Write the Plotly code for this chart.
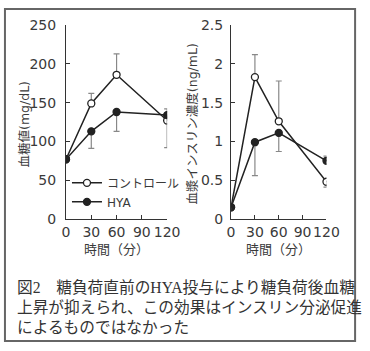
import plotly.graph_objects as go

time = [0, 30, 60, 120]
x_ticks = [0, 30, 60, 90, 120]

glu_ctrl = [77, 149, 186, 127]
glu_ctrl_err_up = [0, 13, 27, 15]
glu_hya = [77, 113, 138, 134]
glu_hya_err_down = [0, 22, 25, 42]

ins_ctrl = [0.15, 1.83, 1.26, 0.48]
ins_ctrl_err_up = [0, 0.29, 0.52, 0]
ins_ctrl_err_down = [0, 0, 0, 0.07]
ins_hya = [0.15, 0.99, 1.11, 0.75]
ins_hya_err_up = [0, 0, 0, 0.06]
ins_hya_err_down = [0, 0.43, 0.24, 0]

glu_yticks = [0, 50, 100, 150, 200, 250]
ins_yticks = [0, 0.5, 1, 1.5, 2, 2.5]
ins_yticklabels = ["0", "0.5", "1", "1.5", "2", "2.5"]

caption = [
    "図2　糖負荷直前のHYA投与により糖負荷後血糖",
    "上昇が抑えられ、この効果はインスリン分泌促進",
    "によるものではなかった",
]

W, H = 370, 351
LINE = "#222222"
ERR = "#888888"
TXT = "#3a3a3a"
FONT = "DejaVu Sans, Noto Sans CJK JP"
CJK = "Noto Sans CJK JP"

fig = go.Figure()

def add(x, y, xa, ya, filled, name, show, up, down):
    fig.add_trace(go.Scatter(
        x=x, y=y, xaxis=xa, yaxis=ya, mode="lines+markers", name=name,
        showlegend=show,
        line=dict(color=LINE, width=1.5),
        marker=dict(symbol="circle", size=7,
                    color=LINE if filled else "white",
                    line=dict(color=LINE, width=1.3)),
        error_y=dict(type="data", symmetric=False, array=up, arrayminus=down,
                     color=ERR, thickness=1.2, width=3),
    ))

add(time, glu_ctrl, "x", "y", False, "コントロール", True, glu_ctrl_err_up, [0]*4)
add(time, glu_hya, "x", "y", True, "HYA", True, [0]*4, glu_hya_err_down)
add(time, ins_ctrl, "x2", "y2", False, "コントロール", False, ins_ctrl_err_up, ins_ctrl_err_down)
add(time, ins_hya, "x2", "y2", True, "HYA", False, ins_hya_err_up, ins_hya_err_down)

y_dom = [1 - 221 / H, 1 - 18 / H]
axis_common = dict(showline=True, linecolor="#333333", linewidth=1.2, ticks="inside",
                   ticklen=4, tickcolor="#333333", showgrid=False, zeroline=False,
                   tickfont=dict(family=FONT, size=14, color=TXT))

fig.update_layout(
    width=W, height=H, margin=dict(l=0, r=0, t=0, b=0),
    paper_bgcolor="white", plot_bgcolor="white",
    xaxis=dict(domain=[65 / W, 171 / W], range=[0, 120], tickvals=x_ticks,
               anchor="y", tickangle=0, **axis_common),
    yaxis=dict(domain=y_dom, range=[0, 250], tickvals=glu_yticks, anchor="x",
               ticklabelstandoff=6, **axis_common),
    xaxis2=dict(domain=[238 / W, 338 / W], range=[0, 120], tickvals=x_ticks,
                anchor="y2", tickangle=0, **axis_common),
    yaxis2=dict(domain=y_dom, range=[0, 2.5], tickvals=ins_yticks,
                ticktext=ins_yticklabels, anchor="x2", ticklabelstandoff=4,
                **axis_common),
    legend=dict(x=66 / W, y=1 - 168 / H, xanchor="left", yanchor="top",
                bgcolor="rgba(0,0,0,0)", font=dict(family=FONT, size=12, color=TXT),
                tracegroupgap=0, itemwidth=30),
    showlegend=True,
)

ann = []
for cx in (118, 288):
    ann.append(dict(text="時間（分）", x=cx / W, y=1 - 252 / H, xref="paper", yref="paper",
                    xanchor="center", yanchor="middle", showarrow=False,
                    font=dict(family=CJK, size=13, color=TXT)))
ann.append(dict(text="血糖値(mg/dL)", x=21 / W, y=1 - 122 / H, xref="paper", yref="paper",
                xanchor="center", yanchor="middle", showarrow=False, textangle=-90,
                font=dict(family=FONT, size=12.5, color=TXT)))
ann.append(dict(text="血漿インスリン濃度(ng/mL)", x=198 / W, y=1 - 121 / H, xref="paper",
                yref="paper", xanchor="center", yanchor="middle", showarrow=False,
                textangle=-90, font=dict(family=FONT, size=12.5, color=TXT)))
for line, yy in zip(caption, [293, 314, 335]):
    ann.append(dict(text=line, x=12 / W, y=1 - yy / H, xref="paper", yref="paper",
                    xanchor="left", yanchor="middle", showarrow=False,
                    font=dict(family="Liberation Serif, Noto Sans CJK JP", size=15.7,
                              color="#333333")))
fig.update_layout(annotations=ann)

fig.add_shape(type="rect", xref="paper", yref="paper", x0=1 / W, x1=368 / W,
              y0=1 - 349 / H, y1=1 - 1 / H, line=dict(color="#666666", width=2))

fig.write_html("out.html")
